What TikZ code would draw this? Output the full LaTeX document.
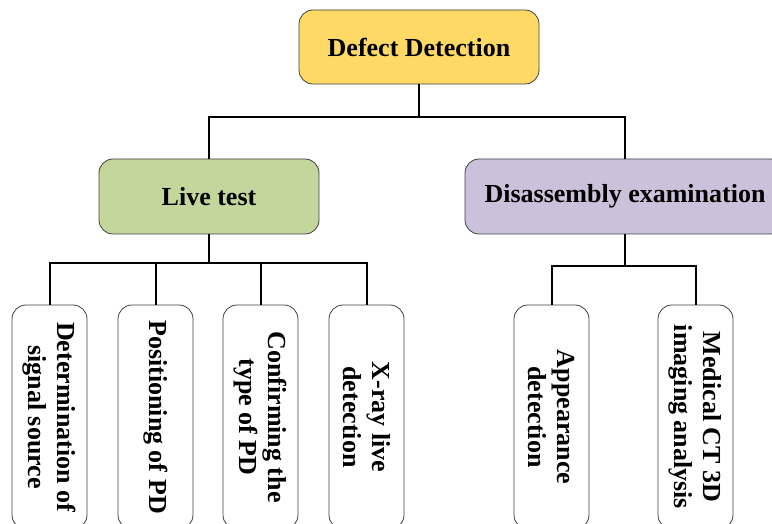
\documentclass[tikz,border=0pt]{standalone}
\usepackage{fontspec}
\setmainfont{Liberation Serif}
\definecolor{goldfill}{HTML}{FFD966}
\definecolor{greenfill}{HTML}{C3D69B}
\definecolor{lilacfill}{HTML}{CCC1DA}
\definecolor{boxline}{HTML}{404040}
\tikzstyle{head} = [draw=boxline, line width=0.8pt, rounded corners=14pt, inner sep=0pt, font=\bfseries\fontsize{26}{29}\selectfont]
\tikzstyle{leaf} = [head, fill=white, rotate=-90, minimum width=224pt, minimum height=75pt, align=center]
\tikzstyle{link} = [line width=2pt]

\begin{document}
\begin{tikzpicture}[x=1pt, y=-1pt]
        \useasboundingbox (0,0) rectangle (772,524);
        \clip (0,0) rectangle (772,524);
        \node (top) [head, fill=goldfill, minimum width=240pt, minimum height=74pt] at (419,47) {Defect Detection};
        \node (live) [head, fill=greenfill, minimum width=220pt, minimum height=75pt] at (209,196.5) {Live test};
        \node (dis) [head, fill=lilacfill, minimum width=320pt, minimum height=75pt] at (625,196.5) {Disassembly examination};
        \node (sig) [leaf] at (49.5,417) {Determination of\\signal source};
        \node (pos) [leaf] at (155.5,417) {Positioning of PD};
        \node (typ) [leaf] at (260.5,417) {Confirming the\\type of PD};
        \node (xray) [leaf] at (366.5,417) {X-ray live\\detection};
        \node (app) [leaf] at (551.5,417) {Appearance\\detection};
        \node (ct) [leaf] at (695.5,417) {Medical CT 3D\\imaging analysis};
        \coordinate (j0) at (419,117);
        \coordinate (j1) at (209,263);
        \coordinate (j2) at (625,266);
        \draw[link] (top) -- (j0);
        \draw[link] (live) |- (j0) -| (dis);
        \draw[link] (live) -- (j1);
        \draw[link] (sig) |- (j1) -| (xray);
        \draw[link] (j1) -| (pos);
        \draw[link] (j1) -| (typ);
        \draw[link] (dis) -- (j2);
        \draw[link] (app) |- (j2) -| (ct);
    \end{tikzpicture}
\end{document}
